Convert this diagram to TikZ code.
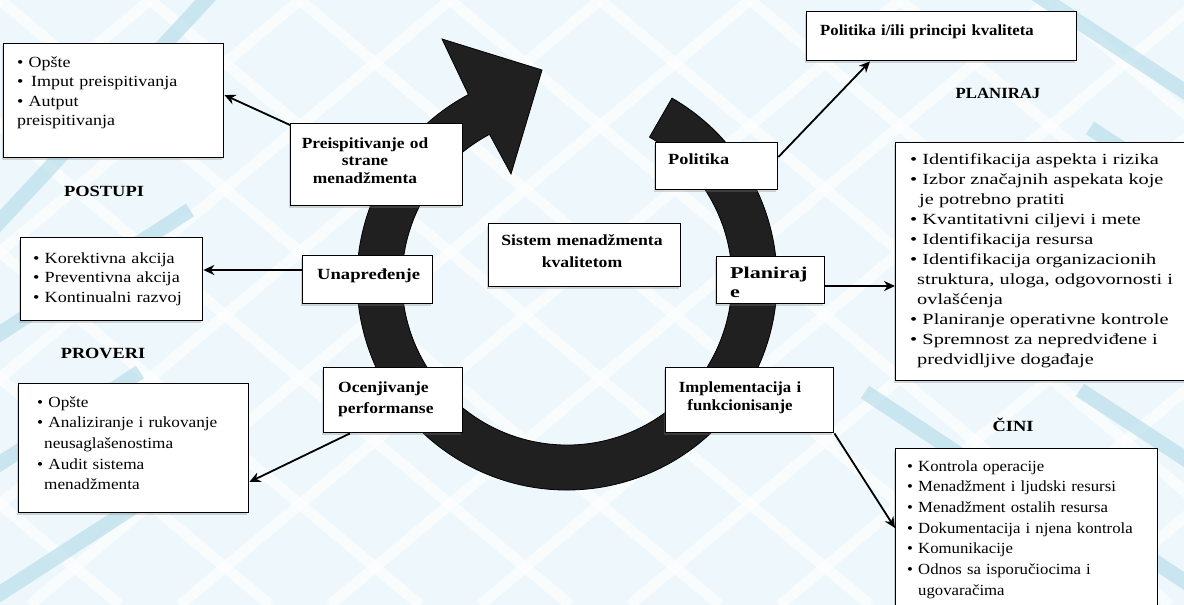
\documentclass[tikz,border=0pt]{standalone}
\usepackage{fontspec}
\setmainfont{Liberation Serif}
\usetikzlibrary{arrows.meta,shadows,calc}
\definecolor{bg}{RGB}{237,247,252}
\definecolor{tealband}{RGB}{190,225,236}
\definecolor{ringc}{RGB}{32,32,32}
\newcommand{\myfs}[3]{\fontsize{#1}{#2}\selectfont\addfontfeature{FakeStretch=#3}}
\begin{document}
\begin{tikzpicture}[x=1pt,y=-1pt,
  box/.style={draw=black,line width=1.4pt,fill=white,inner sep=0pt,anchor=north west,
    drop shadow={shadow xshift=-2pt,shadow yshift=-2pt,opacity=0.3}},
  lst/.style={inner sep=0pt,anchor=base west,align=left,text width=300pt},
  lbl/.style={inner sep=0pt,anchor=base west,align=left,text width=300pt},
  clbl/.style={inner sep=0pt,anchor=base,align=center,text width=220pt},
  head/.style={inner sep=0pt},
  arr/.style={line width=1.8pt,-{Stealth[length=11pt,width=10pt]}},
  wline/.style={white,line width=11pt,opacity=0.65},
  tband/.style={tealband,line width=15pt,opacity=0.75}]

\useasboundingbox (0,0) rectangle (1184,605);
\fill[bg] (0,0) rectangle (1184,605);

% background pattern
\begin{scope}
\clip (0,0) rectangle (1184,605);
\foreach \c in {-900,-750,...,2000} {
  \draw[wline] (\c,0) -- ++(720,605);
  \draw[wline] (\c,0) -- ++(-720,605);
}
\draw[tband] (-10,232) -- (215,-10);
\draw[tband] (-10,340) -- (190,210);
\draw[tband] (-10,470) -- (140,372);
\draw[tband] (-10,600) -- (160,490);
\draw[tband] (1030,-10) -- (1190,95);
\draw[tband] (1090,128) -- (1190,193);
\draw[tband] (865,392) -- (1010,488);
\draw[tband] (1080,390) -- (1190,462);
\draw[tband] (1130,545) -- (1190,585);
\end{scope}

% circular arrow
\begin{scope}[shift={(567,280)}]
\fill[ringc,draw=black,line width=0.8pt]
  (-60:165) -- (-60:210) arc[start angle=-60,end angle=242,radius=210]
  -- (-125,-241) -- (-25,-210) -- (-56,-106)
  -- (242:165) arc[start angle=242,end angle=-60,radius=165] -- cycle;
\end{scope}

% boxes
\node[box,minimum width=220pt,minimum height=114pt] (A) at (3,43) {};
\node[box,minimum width=172pt,minimum height=82pt] (B) at (290,123) {};
\node[box,minimum width=182pt,minimum height=83pt] (C) at (20,237) {};
\node[box,minimum width=130pt,minimum height=48pt] (D) at (302,255) {};
\node[box,minimum width=230pt,minimum height=129pt] (E) at (18,383) {};
\node[box,minimum width=139pt,minimum height=65pt] (F) at (323,367) {};
\node[box,minimum width=192pt,minimum height=63pt] (G) at (488,223) {};
\node[box,minimum width=122pt,minimum height=47pt] (H) at (655,142) {};
\node[box,minimum width=270pt,minimum height=49pt] (I) at (806,11) {};
\node[box,minimum width=108pt,minimum height=47pt] (J) at (716,256) {};
\node[box,minimum width=300pt,minimum height=238pt] (K) at (895,142) {};
\node[box,minimum width=168pt,minimum height=65pt] (L) at (665,367) {};
\node[box,minimum width=262pt,minimum height=170pt] (M) at (895,448) {};

% texts
\node[lst,font={\myfs{15.5}{19.5}{1.16}}] (tA) at (17,67)
  {• Opšte\\ •\, Imput preispitivanja\\ • Autput\\ preispitivanja};
\node[clbl,font={\bfseries\myfs{15.5}{17.5}{1.12}}] (tB) at (365,148)
  {Preispitivanje od\\ strane\\ menadžmenta};
\node[lst,font={\myfs{15.5}{19.5}{1.17}}] (tC) at (33,263)
  {• Korektivna akcija\\ • Preventivna akcija\\ • Kontinualni razvoj};
\node[lbl,font={\bfseries\myfs{15.5}{18}{1.2}}] (tD) at (317,279) {Unapređenje};
\node[lst,font={\myfs{15.5}{20.7}{1.11}}] (tE) at (37,407)
  {• Opšte\\ • Analiziranje i rukovanje\\ \hspace*{7pt}neusaglašenostima\\ • Audit sistema\\ \hspace*{7pt}menadžmenta};
\node[lbl,font={\bfseries\myfs{15.5}{21}{1.13}}] (tF) at (338,392) {Ocenjivanje\\ performanse};
\node[clbl,font={\bfseries\myfs{15.5}{22}{1.14}}] (tG) at (582,245) {Sistem menadžmenta\\ kvalitetom};
\node[lbl,font={\bfseries\myfs{15.5}{18}{1.18}}] (tH) at (668,164) {Politika};
\node[lbl,font={\bfseries\myfs{15.5}{18}{1.08}}] (tI) at (820,35) {Politika i/ili principi kvaliteta};
\node[lbl,font={\bfseries\myfs{16.5}{19}{1.34}}] (tJ) at (730,278) {Planiraj\\ e};
\node[lst,font={\myfs{15.5}{20}{1.31}}] (tK) at (910,164)
  {• Identifikacija aspekta i rizika\\ • Izbor značajnih aspekata koje\\ \hspace*{9pt}je potrebno pratiti\\
   • Kvantitativni ciljevi i mete\\ • Identifikacija resursa\\ • Identifikacija organizacionih\\
   \hspace*{7pt}struktura, uloga, odgovornosti i\\ \hspace*{7pt}ovlašćenja\\ • Planiranje operativne kontrole\\
   • Spremnost za nepredviđene i\\ \hspace*{7pt}predvidljive događaje};
\node[clbl,font={\bfseries\myfs{15.5}{18}{1.08}}] (tL) at (740,392) {Implementacija i\\ funkcionisanje};
\node[lst,font={\myfs{15.5}{20.7}{1.08}}] (tM) at (907,471)
  {• Kontrola operacije\\ • Menadžment i ljudski resursi\\ • Menadžment ostalih resursa\\
   • Dokumentacija i njena kontrola\\ • Komunikacije\\ • Odnos sa isporučiocima i\\ \hspace*{11pt}ugovaračima};

% headings
\node[head,font={\bfseries\myfs{15.5}{18}{1.19}}] (h1) at (104,191) {POSTUPI};
\node[head,font={\bfseries\myfs{15.5}{18}{1.18}}] (h2) at (103,353) {PROVERI};
\node[head,font={\bfseries\myfs{15.5}{18}{1.08}}] (h3) at (998,93) {PLANIRAJ};
\node[head,font={\bfseries\myfs{15.5}{18}{1.19}}] (h4) at (1013,425) {ČINI};

% connectors
\draw[arr] ($(B.north west)+(0,2)$) -- ($(A.north east)+(0,52)$);
\draw[arr] ($(D.north west)+(0,15)$) -- ($(C.north east)+(0,33)$);
\draw[arr] ($(F.south west)+(27,0)$) -- ($(E.north east)+(0,99)$);
\draw[arr] ($(H.north east)+(0,15)$) -- ($(I.south west)+(64,0)$);
\draw[arr] ($(J.north east)+(0,30)$) -- ($(K.north west)+(0,144)$);
\draw[arr] (L.south east) -- ($(M.north west)+(0,80)$);
\end{tikzpicture}
\end{document}
